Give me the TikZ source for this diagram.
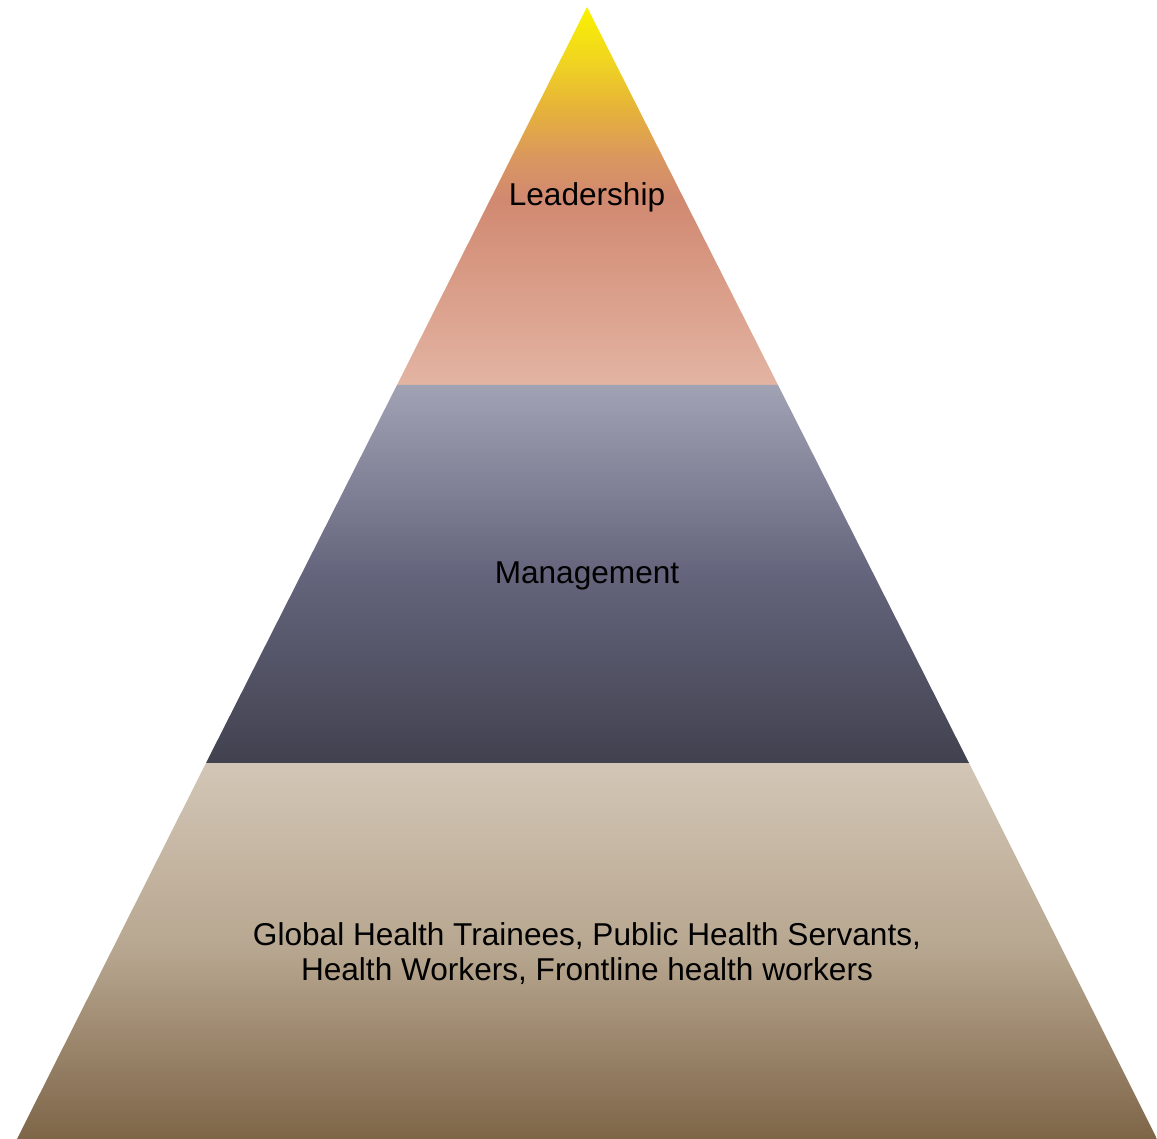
\documentclass[tikz,border=0pt]{standalone}
\usepackage{fontspec}
\setmainfont{Liberation Sans}
\definecolor{cA}{HTML}{FAF200}
\definecolor{cB}{HTML}{F0D520}
\definecolor{cC}{HTML}{E6B23A}
\definecolor{cD}{HTML}{D99660}
\definecolor{cE}{HTML}{D18971}
\definecolor{cF}{HTML}{E3B4A3}
\definecolor{mA}{HTML}{A2A2B5}
\definecolor{mB}{HTML}{64657C}
\definecolor{mC}{HTML}{41414F}
\definecolor{bA}{HTML}{D3C6B6}
\definecolor{bB}{HTML}{B7A68F}
\definecolor{bC}{HTML}{7E6548}
\pgfdeclareverticalshading{topshade}{100bp}{color(0bp)=(cF); color(25bp)=(cF); color(49.5bp)=(cE); color(54.8bp)=(cD); color(61.4bp)=(cC); color(68bp)=(cB); color(75bp)=(cA); color(100bp)=(cA)}
\pgfdeclareverticalshading{midshade}{100bp}{color(0bp)=(mC); color(25bp)=(mC); color(50bp)=(mB); color(75bp)=(mA); color(100bp)=(mA)}
\pgfdeclareverticalshading{botshade}{100bp}{color(0bp)=(bC); color(25bp)=(bC); color(50bp)=(bB); color(75bp)=(bA); color(100bp)=(bA)}
\tikzset{
  lbl/.style={font=\fontsize{31.6}{35}\selectfont, text=black, align=center, inner sep=0pt},
}
\begin{document}
\begin{tikzpicture}[x=1pt,y=-1pt]
\useasboundingbox (0,0) rectangle (1157,1139);
\path[shading=topshade] (587,7) -- (778,385) -- (397,385) -- cycle;
\path[shading=midshade] (397,385) -- (778,385) -- (969,763) -- (206,763) -- cycle;
\path[shading=botshade] (206,763) -- (969,763) -- (1157,1139) -- (17,1139) -- cycle;
\node[lbl] (lead) at (587,197) {Leadership};
\node[lbl] (mgmt) at (587,576) {Management};
\node[lbl] (base) at (587,954) {Global Health Trainees, Public Health Servants,\\Health Workers, Frontline health workers};
\end{tikzpicture}
\end{document}
